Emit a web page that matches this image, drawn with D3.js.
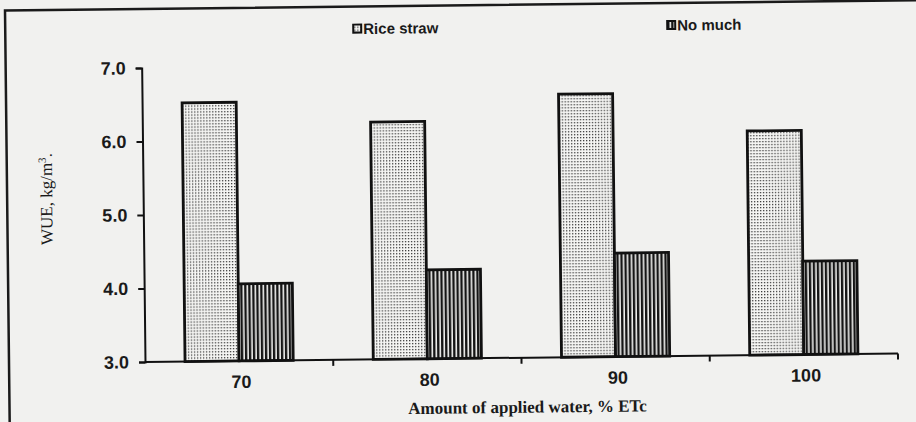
<!DOCTYPE html>
<html>
<head>
<meta charset="utf-8">
<script src="https://cdn.jsdelivr.net/npm/d3@7"></script>
<style>
  body { margin: 0; background: #f1f1ef; }
  svg { display: block; }
</style>
</head>
<body>
<svg id="svg" width="916" height="422"></svg>
<script>
(function() {
  'use strict';

  // data
  var categories = ["70", "80", "90", "100"];
  var seriesNames = ["Rice straw", "No much"];
  var riceStraw = [6.52, 6.23, 6.58, 6.05];
  var noMulch = [4.05, 4.21, 4.41, 4.27];
  var yTicks = [3.0, 4.0, 5.0, 6.0, 7.0];

  var values = [riceStraw, noMulch];

  var svg = d3.select("#svg");

  // fill patterns: stipple for rice straw, vertical hatch for no mulch
  var defs = svg.append("defs");
  var dots = defs.append("pattern")
    .attr("id", "dots")
    .attr("patternUnits", "userSpaceOnUse")
    .attr("width", 3).attr("height", 3);
  dots.append("rect").attr("width", 3).attr("height", 3).attr("fill", "#f6f6f4");
  dots.append("rect").attr("x", 1).attr("y", 1).attr("width", 1.3).attr("height", 1.3).attr("fill", "#3a3a3a");

  var stripes = defs.append("pattern")
    .attr("id", "stripes")
    .attr("patternUnits", "userSpaceOnUse")
    .attr("width", 4).attr("height", 4);
  stripes.append("rect").attr("width", 4).attr("height", 4).attr("fill", "#f2f2f0");
  stripes.append("rect").attr("width", 2.4).attr("height", 4).attr("fill", "#151515");

  var fills = ["url(#dots)", "url(#stripes)"];

  // the scan is tilted a little, so the whole figure is rotated slightly
  var g = svg.append("g")
    .attr("transform", "rotate(-0.65,145,362)");

  // outer frame of the figure
  g.append("path")
    .attr("d", "M9,424 L9,9 L930,9")
    .attr("fill", "none")
    .attr("stroke", "#1a1a1a")
    .attr("stroke-width", 2.5);

  var x0 = d3.scaleBand()
    .domain(categories)
    .range([145, 898])
    .padding(0);

  var x1 = d3.scaleBand()
    .domain(seriesNames)
    .range([0, x0.bandwidth()])
    .paddingInner(0)
    .paddingOuter(0.74);

  var y = d3.scaleLinear()
    .domain([3, 7])
    .range([362, 68]);

  // bars
  var groups = g.selectAll(".grp")
    .data(categories)
    .enter().append("g")
    .attr("class", "grp")
    .attr("transform", function(d) { return "translate(" + x0(d) + ",0)"; });

  groups.selectAll("rect")
    .data(function(d, i) {
      return seriesNames.map(function(s, k) { return { s: s, k: k, v: values[k][i] }; });
    })
    .enter().append("rect")
    .attr("x", function(d) { return x1(d.s); })
    .attr("y", function(d) { return y(d.v); })
    .attr("width", x1.bandwidth())
    .attr("height", function(d) { return y(3) - y(d.v); })
    .attr("fill", function(d) { return fills[d.k]; })
    .attr("stroke", "#111")
    .attr("stroke-width", 2.8);

  // y axis
  var yAxis = g.append("g")
    .attr("transform", "translate(145,0)")
    .call(d3.axisLeft(y).tickValues(yTicks).tickFormat(d3.format(".1f")).tickSize(6).tickPadding(10));
  yAxis.select(".domain").attr("stroke", "#111").attr("stroke-width", 2);
  yAxis.selectAll(".tick line").attr("stroke", "#111").attr("stroke-width", 2);
  yAxis.selectAll("text")
    .attr("fill", "#1a1a1a")
    .style("font-family", "'Liberation Sans', Arial, sans-serif")
    .style("font-weight", "bold")
    .style("font-size", "18px");

  // x axis: ticks sit on the group boundaries, labels in the middle of each group
  var xAxis = g.append("g")
    .attr("transform", "translate(0,362)");
  xAxis.append("line")
    .attr("x1", x0.range()[0]).attr("x2", x0.range()[1])
    .attr("stroke", "#111").attr("stroke-width", 2);
  xAxis.selectAll(".xt")
    .data(categories)
    .enter().append("line")
    .attr("class", "xt")
    .attr("x1", function(d) { return x0(d) + x0.bandwidth(); })
    .attr("x2", function(d) { return x0(d) + x0.bandwidth(); })
    .attr("y1", 0).attr("y2", 6)
    .attr("stroke", "#111").attr("stroke-width", 2);
  xAxis.selectAll(".xl")
    .data(categories)
    .enter().append("text")
    .attr("class", "xl")
    .attr("x", function(d) { return x0(d) + x0.bandwidth() / 2 + 2; })
    .attr("y", 27)
    .attr("text-anchor", "middle")
    .attr("fill", "#1a1a1a")
    .style("font-family", "'Liberation Sans Narrow', 'Liberation Sans', Arial, sans-serif")
    .style("font-weight", "bold")
    .style("font-size", "18px")
    .text(function(d) { return d; });

  // axis titles
  g.append("text")
    .attr("x", 527)
    .attr("y", 417)
    .attr("text-anchor", "middle")
    .attr("fill", "#1a1a1a")
    .style("font-family", "'Liberation Serif', 'Times New Roman', serif")
    .style("font-weight", "bold")
    .style("font-size", "17px")
    .text("Amount of applied water, % ETc");

  var yTitle = g.append("text")
    .attr("transform", "translate(54,198) rotate(-90)")
    .attr("text-anchor", "middle")
    .attr("fill", "#1a1a1a")
    .style("font-family", "'Liberation Serif', 'Times New Roman', serif")
    .style("font-size", "17px");
  yTitle.append("tspan").text("WUE, kg/m");
  yTitle.append("tspan").attr("dy", -6).style("font-size", "11px").text("3");
  yTitle.append("tspan").attr("dy", 6).text(".");

  // legend
  var legendX = [357, 671];
  var legend = g.selectAll(".lg")
    .data(seriesNames)
    .enter().append("g")
    .attr("class", "lg")
    .attr("transform", function(d, i) { return "translate(" + legendX[i] + ",31)"; });
  legend.append("rect")
    .attr("x", 0).attr("y", -4)
    .attr("width", 8).attr("height", 8)
    .attr("fill", function(d, i) { return fills[i]; })
    .attr("stroke", "#111")
    .attr("stroke-width", 2);
  legend.append("text")
    .attr("x", 10)
    .attr("y", 5.5)
    .attr("fill", "#1a1a1a")
    .style("font-family", "'Liberation Sans', Arial, sans-serif")
    .style("font-weight", "bold")
    .style("font-size", "15px")
    .text(function(d) { return d; });
}());
</script>
</body>
</html>
